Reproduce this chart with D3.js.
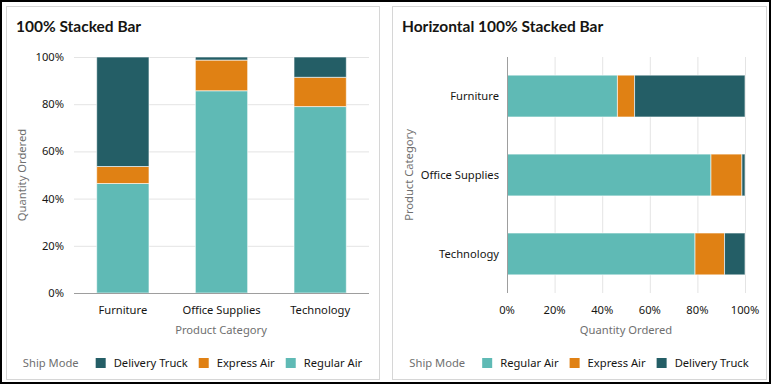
<!DOCTYPE html>
<html>
<head>
<meta charset="utf-8">
<script src="https://cdn.jsdelivr.net/npm/d3@7"></script>
<style>
  body { margin: 0; background: #fff; }
  text { font-family: "Noto Sans", "Open Sans", sans-serif; }
</style>
</head>
<body>
<script>
// chart data
const categories = ["Furniture", "Office Supplies", "Technology"];
const regularAir = [46.4, 85.7, 79.0];
const expressAir = [7.2, 13.0, 12.4];
const deliveryTruck = [46.4, 1.3, 8.6];
const pctTicks = [0, 20, 40, 60, 80, 100];

const seriesNames = ["Regular Air", "Express Air", "Delivery Truck"];
const seriesColors = { "Regular Air": "#5fbab5", "Express Air": "#e08114", "Delivery Truck": "#245e66" };

const FS = "11.2px";

const rows = categories.map((c, i) => ({
    category: c,
    "Regular Air": regularAir[i],
    "Express Air": expressAir[i],
    "Delivery Truck": deliveryTruck[i]
}));
const stacked = d3.stack().keys(seriesNames).offset(d3.stackOffsetExpand)(rows);

const W = 772, H = 387;
const svg = d3.select("body").append("svg")
    .attr("width", W).attr("height", H)
    .attr("xmlns", "http://www.w3.org/2000/svg");

// outer frame
svg.append("rect").attr("x", 1).attr("y", 1).attr("width", 769).attr("height", 382)
    .attr("fill", "#fff").attr("stroke", "#000").attr("stroke-width", 2);

function panel(x0, x1, title) {
    svg.append("rect").attr("x", x0 + 0.5).attr("y", 6.5).attr("width", x1 - x0).attr("height", 373)
        .attr("fill", "#fff").attr("stroke", "#d6d6d6");
    svg.append("text").attr("x", x0 + 10).attr("y", 32)
        .style("font-family", "Lato, 'Noto Sans', sans-serif")
        .style("font-weight", "bold").style("font-size", "15.5px").attr("fill", "#161513")
        .text(title);
}

function legend(cx, order) {
    const g = svg.append("g").attr("transform", "translate(0,363)");
    let x = 0;
    const lab = g.append("text").attr("x", x).attr("dy", "0.35em")
        .style("font-size", FS).attr("fill", "#6f6f6f").text("Ship Mode");
    x += lab.node().getComputedTextLength() + 17;
    order.forEach((s, i) => {
        g.append("rect").attr("x", x).attr("y", -5).attr("width", 10).attr("height", 10)
            .attr("fill", seriesColors[s]);
        x += 18;
        const t = g.append("text").attr("x", x).attr("dy", "0.35em")
            .style("font-size", FS).attr("fill", "#161513").text(s);
        x += t.node().getComputedTextLength() + (i < order.length - 1 ? 11 : 0);
    });
    g.attr("transform", "translate(" + (cx - x / 2) + ",363)");
}

// ---------- left: vertical 100% stacked bar ----------
panel(6, 379, "100% Stacked Bar");

const x1 = d3.scaleBand().domain(categories).range([74, 369]).paddingInner(0.47).paddingOuter(0.23);
const y1 = d3.scaleLinear().domain([0, 100]).range([293, 57]);

svg.append("g").selectAll("line").data(pctTicks.slice(1)).join("line")
    .attr("x1", 74).attr("x2", 369)
    .attr("y1", d => y1(d) + 0.5).attr("y2", d => y1(d) + 0.5)
    .attr("stroke", "#e4e4e4");

svg.append("g").selectAll("g").data(stacked).join("g")
    .attr("fill", d => seriesColors[d.key])
    .selectAll("rect").data(d => d).join("rect")
    .attr("x", d => x1(d.data.category))
    .attr("width", x1.bandwidth())
    .attr("y", d => y1(d[1] * 100))
    .attr("height", d => y1(d[0] * 100) - y1(d[1] * 100))
    .attr("stroke", "#fff").attr("stroke-opacity", 0.6).attr("stroke-width", 1);

svg.append("line").attr("x1", 74).attr("x2", 369).attr("y1", 293.5).attr("y2", 293.5)
    .attr("stroke", "#9e9e9e");

svg.append("g").selectAll("text").data(pctTicks).join("text")
    .attr("x", 64).attr("y", d => y1(d)).attr("dy", "0.35em")
    .attr("text-anchor", "end").style("font-size", FS).attr("fill", "#161513")
    .text(d => d + "%");

svg.append("g").selectAll("text").data(categories).join("text")
    .attr("x", d => x1(d) + x1.bandwidth() / 2).attr("y", 310).attr("dy", "0.35em")
    .attr("text-anchor", "middle").style("font-size", FS).attr("fill", "#161513")
    .text(d => d);

svg.append("text").attr("x", 221).attr("y", 330).attr("dy", "0.35em")
    .attr("text-anchor", "middle").style("font-size", FS).attr("fill", "#6f6f6f")
    .text("Product Category");

svg.append("text").attr("transform", "translate(22,175) rotate(-90)").attr("dy", "0.35em")
    .attr("text-anchor", "middle").style("font-size", FS).attr("fill", "#6f6f6f")
    .text("Quantity Ordered");

legend(192.5, ["Delivery Truck", "Express Air", "Regular Air"]);

// ---------- right: horizontal 100% stacked bar ----------
panel(392, 766, "Horizontal 100% Stacked Bar");

const x2 = d3.scaleLinear().domain([0, 100]).range([507, 745]);
const y2 = d3.scaleBand().domain(categories).range([57, 293]).paddingInner(0.47).paddingOuter(0.23);

svg.append("g").selectAll("line").data(pctTicks.slice(1)).join("line")
    .attr("x1", d => x2(d) + 0.5).attr("x2", d => x2(d) + 0.5)
    .attr("y1", 57).attr("y2", 293)
    .attr("stroke", "#e4e4e4");

svg.append("g").selectAll("g").data(stacked).join("g")
    .attr("fill", d => seriesColors[d.key])
    .selectAll("rect").data(d => d).join("rect")
    .attr("y", d => y2(d.data.category))
    .attr("height", y2.bandwidth())
    .attr("x", d => x2(d[0] * 100))
    .attr("width", d => x2(d[1] * 100) - x2(d[0] * 100))
    .attr("stroke", "#fff").attr("stroke-opacity", 0.6).attr("stroke-width", 1);

svg.append("line").attr("x1", 507.5).attr("x2", 507.5).attr("y1", 57).attr("y2", 293)
    .attr("stroke", "#9e9e9e");

svg.append("g").selectAll("text").data(pctTicks).join("text")
    .attr("x", d => x2(d)).attr("y", 310).attr("dy", "0.35em")
    .attr("text-anchor", "middle").style("font-size", FS).attr("fill", "#161513")
    .text(d => d + "%");

svg.append("g").selectAll("text").data(categories).join("text")
    .attr("x", 499).attr("y", d => y2(d) + y2.bandwidth() / 2).attr("dy", "0.35em")
    .attr("text-anchor", "end").style("font-size", FS).attr("fill", "#161513")
    .text(d => d);

svg.append("text").attr("x", 626).attr("y", 330).attr("dy", "0.35em")
    .attr("text-anchor", "middle").style("font-size", FS).attr("fill", "#6f6f6f")
    .text("Quantity Ordered");

svg.append("text").attr("transform", "translate(409,175) rotate(-90)").attr("dy", "0.35em")
    .attr("text-anchor", "middle").style("font-size", FS).attr("fill", "#6f6f6f")
    .text("Product Category");

legend(579, ["Regular Air", "Express Air", "Delivery Truck"]);
</script>
</body>
</html>
